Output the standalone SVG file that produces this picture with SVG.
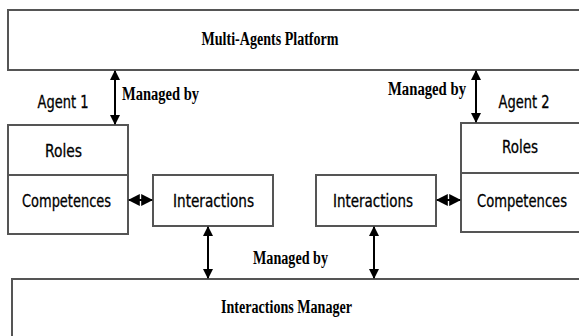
<svg xmlns="http://www.w3.org/2000/svg" width="579" height="336" viewBox="0 0 579 336">
<defs>
<style>
.box{fill:#fff;stroke:#555;stroke-width:2}
.sans{font-family:"DejaVu Sans Condensed","DejaVu Sans",sans-serif;font-size:17.5px;fill:#000;stroke:#000;stroke-width:0.3}
.serif{font-family:"Liberation Serif",serif;font-weight:bold;font-size:18.5px;fill:#000}
.conn{stroke:#000;stroke-width:2;fill:none}
</style>
<marker id="ah" viewBox="0 0 10 10" refX="9" refY="5" markerWidth="10" markerHeight="11" markerUnits="userSpaceOnUse" orient="auto-start-reverse">
<path d="M0,0 L10,5 L0,10 Z" fill="#000"/>
</marker>
<marker id="ahs" viewBox="0 0 10 10" refX="9" refY="5" markerWidth="12" markerHeight="15" markerUnits="userSpaceOnUse" orient="auto-start-reverse">
<path d="M0,0 L10,5 L0,10 Z" fill="#000"/>
</marker>
</defs>
<rect width="579" height="336" fill="#fff"/>
<g id="platform">
<rect class="box" x="8" y="10" width="573" height="60"/>
<text class="serif" x="270" y="45" text-anchor="middle" textLength="137" lengthAdjust="spacingAndGlyphs">Multi-Agents Platform</text>
</g>
<g id="agent1">
<text class="sans" x="63" y="108" text-anchor="middle" textLength="51" lengthAdjust="spacingAndGlyphs">Agent 1</text>
<g id="roles1">
<rect class="box" x="8" y="125" width="120" height="50"/>
<text class="sans" x="63.5" y="157" text-anchor="middle" textLength="37" lengthAdjust="spacingAndGlyphs">Roles</text>
</g>
<g id="competences1">
<rect class="box" x="8" y="175" width="120" height="59"/>
<text class="sans" x="66.5" y="207" text-anchor="middle" textLength="89" lengthAdjust="spacingAndGlyphs">Competences</text>
</g>
</g>
<g id="interactions1">
<rect class="box" x="153" y="175" width="120" height="51"/>
<text class="sans" x="213.5" y="207" text-anchor="middle" textLength="81" lengthAdjust="spacingAndGlyphs">Interactions</text>
</g>
<g id="interactions2">
<rect class="box" x="316" y="175" width="120" height="51"/>
<text class="sans" x="373" y="207" text-anchor="middle" textLength="80" lengthAdjust="spacingAndGlyphs">Interactions</text>
</g>
<g id="agent2">
<text class="sans" x="524" y="108" text-anchor="middle" textLength="51" lengthAdjust="spacingAndGlyphs">Agent 2</text>
<g id="roles2">
<rect class="box" x="461" y="123" width="120" height="50"/>
<text class="sans" x="520" y="153" text-anchor="middle" textLength="36" lengthAdjust="spacingAndGlyphs">Roles</text>
</g>
<g id="competences2">
<rect class="box" x="461" y="173" width="120" height="59"/>
<text class="sans" x="522" y="207" text-anchor="middle" textLength="90" lengthAdjust="spacingAndGlyphs">Competences</text>
</g>
</g>
<g id="manager">
<rect class="box" x="12" y="279" width="569" height="70"/>
<text class="serif" x="286.5" y="313" text-anchor="middle" textLength="131" lengthAdjust="spacingAndGlyphs">Interactions Manager</text>
</g>
<g id="connectors">
<line class="conn" x1="115" y1="71" x2="115" y2="124" marker-start="url(#ah)" marker-end="url(#ah)"/>
<line class="conn" x1="476" y1="71" x2="476" y2="122" marker-start="url(#ah)" marker-end="url(#ah)"/>
<line class="conn" x1="129" y1="200" x2="152" y2="200" stroke-width="4" marker-start="url(#ahs)" marker-end="url(#ahs)"/>
<line class="conn" x1="437" y1="200" x2="460" y2="200" stroke-width="4" marker-start="url(#ahs)" marker-end="url(#ahs)"/>
<line class="conn" x1="208" y1="227" x2="208" y2="278" marker-start="url(#ah)" marker-end="url(#ah)"/>
<line class="conn" x1="374" y1="227" x2="374" y2="278" marker-start="url(#ah)" marker-end="url(#ah)"/>
<text class="serif" x="122" y="100" textLength="77" lengthAdjust="spacingAndGlyphs">Managed by</text>
<text class="serif" x="388" y="95" textLength="78" lengthAdjust="spacingAndGlyphs">Managed by</text>
<text class="serif" x="253" y="264" textLength="75" lengthAdjust="spacingAndGlyphs">Managed by</text>
</g>
</svg>
